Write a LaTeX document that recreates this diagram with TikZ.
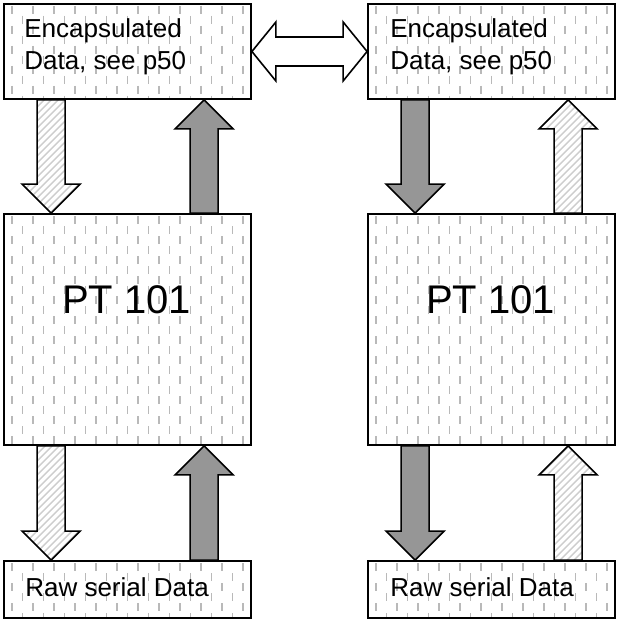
\documentclass[tikz,border=0pt]{standalone}
\usepackage{fontspec}
\setmainfont{Liberation Sans}
\usetikzlibrary{calc}

\definecolor{dashgrey}{RGB}{185,185,185}
\definecolor{hatchgrey}{RGB}{205,205,205}
\definecolor{solidgrey}{RGB}{150,150,150}

% vertical block arrow: #1 style, #2 tail, #3 tip, #4 head length
\newcommand\blockarr[4]{%
  \coordinate (ba-hb) at ($(#3)!#4!(#2)$);
  \path[#1] ($(#2)!14pt!90:(#3)$) -- ($(ba-hb)!14pt!90:(#3)$)
    -- ($(ba-hb)!29pt!90:(#3)$) -- (#3) -- ($(ba-hb)!29pt!-90:(#3)$)
    -- ($(ba-hb)!14pt!-90:(#3)$) -- ($(#2)!14pt!-90:(#3)$) -- cycle;
}
% double-headed block arrow: #1 style, #2 left tip, #3 right tip
\newcommand\dblarr[3]{%
  \coordinate (da-hl) at ($(#2)!24pt!(#3)$);
  \coordinate (da-hr) at ($(#3)!24pt!(#2)$);
  \path[#1] (#2) -- ($(da-hl)!29.5pt!90:(#3)$) -- ($(da-hl)!14.5pt!90:(#3)$)
    -- ($(da-hr)!14.5pt!-90:(#2)$) -- ($(da-hr)!29.5pt!-90:(#2)$) -- (#3)
    -- ($(da-hr)!29.5pt!90:(#2)$) -- ($(da-hr)!14.5pt!90:(#2)$)
    -- ($(da-hl)!14.5pt!-90:(#3)$) -- ($(da-hl)!29.5pt!-90:(#3)$) -- cycle;
}

% two-line label text
\newcommand\twolines[2]{\fontsize{26}{32}\selectfont#1\\\fontsize{26}{32}\selectfont#2}

\tikzset{
  dashline/.style={draw=dashgrey, line width=1.8pt},
  hatchline/.style={draw=hatchgrey, line width=1.4pt},
  dashfill/.style={fill=white, path picture={
      \foreach \r in {0,...,23} \foreach \c in {0,...,11} {
        \draw[dashline] ([shift={({(\c*21+8+mod(\r,2)*10.5)*1pt},{-(\r*10+2)*1pt})}]path picture bounding box.north west) -- ++(0,-8pt);
      }}},
  hatchfill/.style={fill=white, path picture={
      \foreach \k in {-20,...,12} {
        \draw[hatchline] ([xshift={\k*7pt}]path picture bounding box.south west) -- ++(140pt,140pt);
      }}},
  unit/.style={rectangle, draw=black, line width=1.8pt, inner sep=0pt,
    minimum width=247pt, dashfill},
  encbox/.style={unit, minimum height=95pt},
  ptbox/.style={unit, minimum height=231pt},
  rawbox/.style={unit, minimum height=57pt},
  arrowbase/.style={draw=black, line width=1.6pt, line join=miter},
  lightarrow/.style={arrowbase, hatchfill},
  darkarrow/.style={arrowbase, fill=solidgrey},
  linkarrow/.style={arrowbase, fill=white},
  smalltext/.style={font={\fontsize{26}{32}\selectfont}, align=left, inner sep=0pt, anchor=west},
  bigtext/.style={font={\fontsize{40}{48}\selectfont}, inner sep=0pt},
}

\begin{document}
\begin{tikzpicture}[x=1pt, y=1pt]
  \useasboundingbox (0,0) rectangle (618,-620);

  % boxes
  \node[encbox] (enc1) at (127.5,-51.5) {};
  \node[encbox] (enc2) at (491.5,-51.5) {};
  \node[ptbox]  (pt1)  at (127.5,-329.5) {};
  \node[ptbox]  (pt2)  at (491.5,-329.5) {};
  \node[rawbox] (raw1) at (127.5,-589.5) {};
  \node[rawbox] (raw2) at (491.5,-589.5) {};

  % labels
  \node[smalltext] (enc1t) at ([xshift=21pt,yshift=4.5pt]enc1.west) {\twolines{Encapsulated}{Data, see p50}};
  \node[smalltext] (enc2t) at ([xshift=23pt,yshift=4.5pt]enc2.west) {\twolines{Encapsulated}{Data, see p50}};
  \node[bigtext] (pt1t) at ([xshift=-1pt,yshift=30pt]pt1.center) {PT 101};
  \node[bigtext] (pt2t) at ([xshift=-1pt,yshift=30pt]pt2.center) {PT 101};
  \node[smalltext] (raw1t) at ([xshift=22pt,yshift=2.5pt]raw1.west) {Raw serial Data};
  \node[smalltext] (raw2t) at ([xshift=23pt,yshift=2.5pt]raw2.west) {Raw serial Data};

  % arrow end points on the box borders
  \foreach \b in {1,2} {
    \coordinate (eL\b) at ($(enc\b.south west)+(48,0)$);
    \coordinate (eR\b) at ($(enc\b.south west)+(201,0)$);
    \coordinate (pLt\b) at ($(pt\b.north west)+(48,0)$);
    \coordinate (pRt\b) at ($(pt\b.north west)+(201,0)$);
    \coordinate (pLb\b) at ($(pt\b.south west)+(48,0)$);
    \coordinate (pRb\b) at ($(pt\b.south west)+(201,0)$);
    \coordinate (rL\b) at ($(raw\b.north west)+(48,0)$);
    \coordinate (rR\b) at ($(raw\b.north west)+(201,0)$);
  }

  % left stack
  \blockarr{lightarrow}{eL1}{pLt1}{29pt}
  \blockarr{darkarrow}{pRt1}{eR1}{29pt}
  \blockarr{lightarrow}{pLb1}{rL1}{29pt}
  \blockarr{darkarrow}{rR1}{pRb1}{29pt}

  % right stack
  \blockarr{darkarrow}{eL2}{pLt2}{29pt}
  \blockarr{lightarrow}{pRt2}{eR2}{29pt}
  \blockarr{darkarrow}{pLb2}{rL2}{29pt}
  \blockarr{lightarrow}{rR2}{pRb2}{29pt}

  % link between the two encapsulation boxes
  \dblarr{linkarrow}{enc1.east}{enc2.west}
\end{tikzpicture}
\end{document}
